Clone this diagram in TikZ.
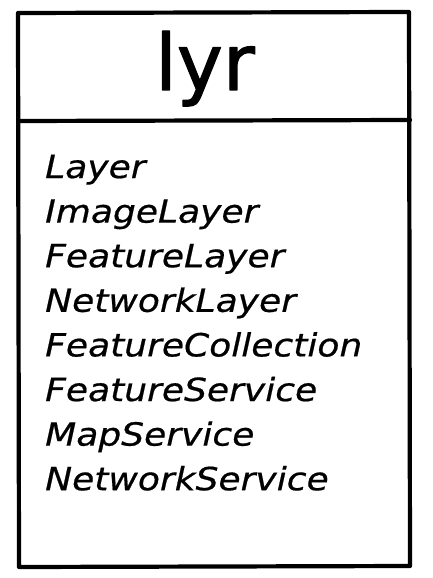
\documentclass[tikz,border=0pt]{standalone}
\usepackage{fontspec}
\setmainfont{DejaVu Sans}
\newfontfamily\handfont[FakeStretch=1.13,FakeBold=0.6]{DejaVu Sans}
\newfontfamily\titlefont[FakeBold=1.6]{DejaVu Sans}
\usepackage{tikz}
\usepackage{xcolor}

\begin{document}
\begin{tikzpicture}[x=1bp,y=-1bp,line cap=round,line join=round,
  sketch/.style={line width=4.2bp,black},
  member/.style={anchor=base west,inner sep=0pt,font=\handfont\itshape\fontsize{32}{32}\selectfont}]
\useasboundingbox (0,0) rectangle (432,578);
\draw[sketch] (18,13) -- (409,12) -- (410,566) -- (19,567) -- cycle;
\draw[sketch] (18,121) -- (410,120);
\node[anchor=base,inner sep=0pt,font=\titlefont\fontsize{78}{78}\selectfont] (title) at (205,90) {lyr};
\node[member] (layer) at (45,178) {Layer};
\node[member] (imagelayer) at (45,222.6) {ImageLayer};
\node[member] (featurelayer) at (45,267.2) {FeatureLayer};
\node[member] (networklayer) at (45,311.8) {NetworkLayer};
\node[member] (featurecoll) at (45,356.4) {FeatureCollection};
\node[member] (featuresvc) at (45,401) {FeatureService};
\node[member] (mapsvc) at (45,445.6) {MapService};
\node[member] (networksvc) at (45,490.2) {NetworkService};
\end{tikzpicture}
\end{document}
